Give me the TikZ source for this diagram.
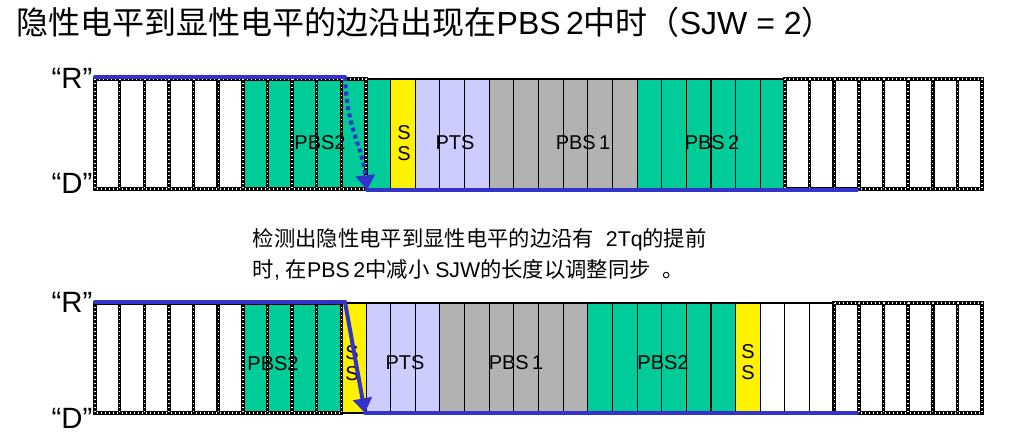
\documentclass[tikz,border=0pt]{standalone}
\usepackage{fontspec}
\setmainfont{Liberation Sans}
\newfontfamily\cjk{Noto Sans CJK SC}
\usetikzlibrary{arrows.meta}
\definecolor{bitgreen}{RGB}{0,204,153}
\definecolor{bitgray}{RGB}{178,178,178}
\definecolor{bitblue}{RGB}{204,204,255}
\definecolor{sigblue}{RGB}{51,51,204}
\tikzset{
  bitcell/.style={draw=black,line width=0.8pt},
  dotbit/.style={draw=black,line width=2.6pt},
  dotgap/.style={draw=white,line width=1pt,dash pattern=on 0.6pt off 2.4pt},
  sig/.style={draw=sigblue,line width=3pt,line cap=round},
  sigtip/.style={-{Triangle[length=11pt,width=14pt]}},
  title/.style={font=\fontsize{24}{28}\selectfont},
  lvl/.style={font=\fontsize{22}{26}\selectfont},
  lbl/.style={font=\fontsize{15}{16}\selectfont},
  note/.style={font=\fontsize{16}{20}\selectfont}
}
\begin{document}
\begin{tikzpicture}[x=0.75pt,y=-0.75pt]
  \useasboundingbox (0,0) rectangle (1015,442);
  \def\w{24.64}
  \node[title,anchor=west] (title) at (12,22) {{\cjk 隐性电平到显性电平的边沿出现在}PBS\,2{\cjk 中时（}SJW = 2{\cjk ）}};

  % upper bit
  \foreach \a/\b/\f in {0/5/white, 6/10/bitgreen, 11/11/bitgreen, 12/12/yellow, 13/15/bitblue,
      16/21/bitgray, 22/27/bitgreen, 28/35/white}
    \foreach \i in {\a,...,\b}
      \fill[\f] ({95+\i*\w},79) rectangle ++(\w,110);
  \foreach \i in {11,...,27}
    \draw[bitcell] ({95+\i*\w},79) rectangle ++(\w,110);
  \foreach \i in {0,...,10,28,29,...,35}
    \draw[dotbit] ({95+\i*\w},79) rectangle ++(\w,110);
  \foreach \i in {0,...,10,28,29,...,35}
    \draw[dotgap] ({95+\i*\w},79) rectangle ++(\w,110);
  \node[lbl] (pbsTwoU) at (320,143) {PBS2};
  \node[lbl,align=center] (ssU) at (404,143) {S\\S};
  \node[lbl] (ptsU) at (455,143) {PTS};
  \node[lbl] (pbsOneU) at (583,143) {PBS\,1};
  \node[lbl] (pbsTwoUr) at (712,143) {PBS\,2};
  \node[lvl,anchor=east] (recU) at (97,78) {“R”};
  \node[lvl,anchor=east] (domU) at (97,183) {“D”};
  \coordinate (recUa) at (95,77);
  \coordinate (recUb) at (345,77);
  \coordinate (domUa) at (367,190);
  \coordinate (domUb) at (857,190);
  \draw[sig] (recUa) -- (recUb);
  \draw[sig] (domUa) -- (domUb);
  \draw[sig,sigtip,line cap=butt,dash pattern=on 3pt off 2.5pt] (recUb) .. controls (347,130) and (362,145) .. (domUa);

  % lower bit
  \foreach \a/\b/\f in {0/5/white, 6/9/bitgreen, 10/10/yellow, 11/13/bitblue, 14/19/bitgray,
      20/25/bitgreen, 26/26/yellow, 27/35/white}
    \foreach \i in {\a,...,\b}
      \fill[\f] ({95+\i*\w},303) rectangle ++(\w,110);
  \foreach \i in {10,...,29}
    \draw[bitcell] ({95+\i*\w},303) rectangle ++(\w,110);
  \foreach \i in {0,...,9,30,31,...,35}
    \draw[dotbit] ({95+\i*\w},303) rectangle ++(\w,110);
  \foreach \i in {0,...,9,30,31,...,35}
    \draw[dotgap] ({95+\i*\w},303) rectangle ++(\w,110);
  \node[lbl] (pbsTwoL) at (273,364) {PBS2};
  \node[lbl,align=center] (ssL) at (352,363) {S\\S};
  \node[lbl] (ptsL) at (405,363) {PTS};
  \node[lbl] (pbsOneL) at (516,363) {PBS\,1};
  \node[lbl] (pbsTwoLr) at (663,363) {PBS2};
  \node[lbl,align=center] (ssLr) at (748,362) {S\\S};
  \node[lvl,anchor=east] (recL) at (97,302) {“R”};
  \node[lvl,anchor=east] (domL) at (97,418) {“D”};
  \coordinate (recLa) at (95,302);
  \coordinate (recLb) at (345,302);
  \coordinate (domLa) at (365,413);
  \coordinate (domLb) at (857,413);
  \draw[sig] (recLa) -- (recLb);
  \draw[sig] (domLa) -- (domLb);
  \draw[sig,sigtip] (recLb) -- (domLa);

  \node[note,anchor=west] (noteA) at (248,240) {{\cjk 检测出隐性电平到显性电平的边沿有}\ \ 2Tq{\cjk 的提前}};
  \node[note,anchor=west] (noteB) at (248,270) {{\cjk 时}, {\cjk 在}PBS\,2{\cjk 中减小} SJW{\cjk 的长度以调整同步}\ \ {\cjk 。}};
\end{tikzpicture}
\end{document}
